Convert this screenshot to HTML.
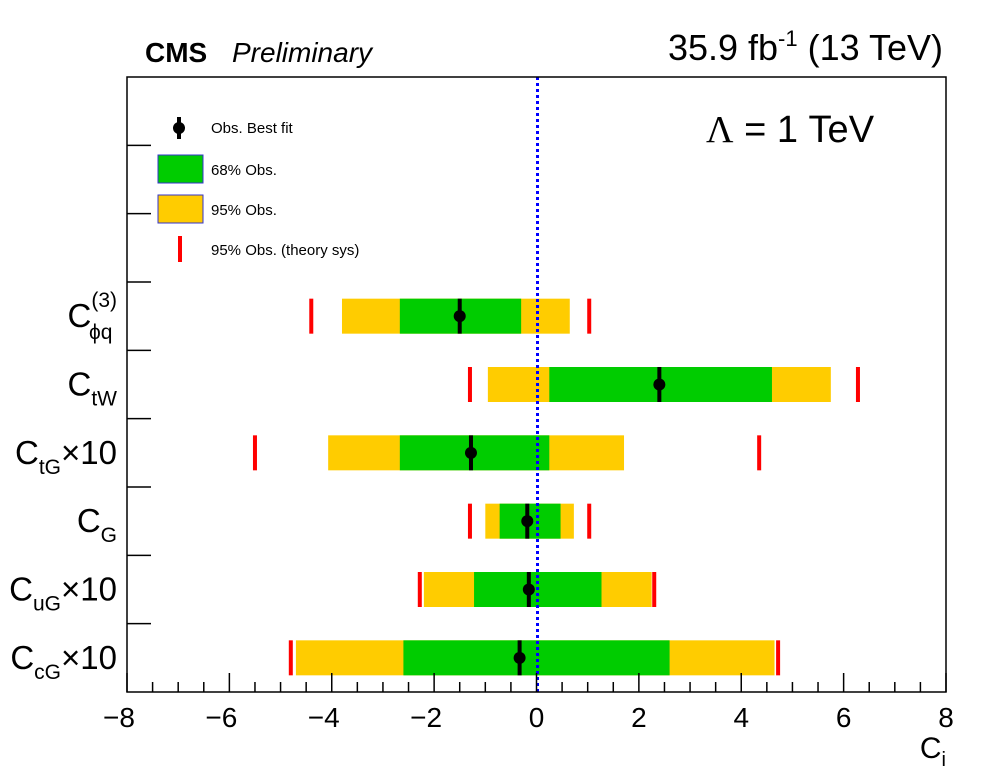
<!DOCTYPE html>
<html><head><meta charset="utf-8"><style>
body{margin:0;background:#fff;}
svg text{font-family:"Liberation Sans",sans-serif;}
</style></head><body>
<svg id="c" width="996" height="772" xmlns="http://www.w3.org/2000/svg">
<rect x="0" y="0" width="996" height="772" fill="#fff"/>
<text x="145" y="62" font-size="28" font-weight="bold">CMS</text>
<text x="232" y="62" font-size="28" font-style="italic">Preliminary</text>
<text x="943" y="60" font-size="36" text-anchor="end">35.9 fb<tspan dy="-14" font-size="22">-1</tspan><tspan dy="14"> (13 TeV)</tspan></text>
<text x="706" y="142" font-size="38"><tspan font-family="Liberation Serif">Λ</tspan> = 1 TeV</text>
<g id="marks"></g>
<g id="axes"></g>
<line x1="179" y1="117" x2="179" y2="139" stroke="#000" stroke-width="4"/>
<circle cx="179" cy="128" r="6" fill="#000"/>
<text x="211" y="133" font-size="15">Obs. Best fit</text>
<rect x="158" y="155" width="45" height="28" fill="#00cc00" stroke="#3333cc"/>
<text x="211" y="175" font-size="15">68% Obs.</text>
<rect x="158" y="195" width="45" height="28" fill="#ffcc00" stroke="#3333cc"/>
<text x="211" y="215" font-size="15">95% Obs.</text>
<rect x="178" y="236" width="4" height="26" fill="#ff0000"/>
<text x="211" y="255" font-size="15">95% Obs. (theory sys)</text>
<text x="946" y="758" font-size="30" text-anchor="end">C<tspan dy="8" font-size="20">i</tspan></text>
</svg>
<script>
const params=["cphiq","ctw","ctg","cg","cug","ccg"];
const best=[-1.5,2.4,-1.28,-0.18,-0.15,-0.33];
const lo68=[-2.67,0.25,-2.67,-0.72,-1.22,-2.6];
const hi68=[-0.3,4.6,0.25,0.47,1.27,2.6];
const lo95=[-3.8,-0.95,-4.07,-1.0,-2.2,-4.7];
const hi95=[0.65,5.75,1.71,0.73,2.25,4.65];
const loTh=[-4.4,-1.3,-5.5,-1.3,-2.28,-4.8];
const hiTh=[1.03,6.28,4.35,1.03,2.3,4.72];
const xTicks=[-8,-6,-4,-2,0,2,4,6,8];
const ns="http://www.w3.org/2000/svg";
const L=127,R=946,T=77,B=692,NROW=9;
const rowH=(B-T)/NROW;
const X=v=>L+(v+8)/16*(R-L);
const Yc=i=>T+rowH*(i+3+0.5);
function mk(tag,at,parent){const e=document.createElementNS(ns,tag);for(const k in at)e.setAttribute(k,at[k]);parent.appendChild(e);return e;}
const g=document.getElementById('marks'),ax=document.getElementById('axes');
const bh=35;
params.forEach((p,i)=>{
 const y=Yc(i);
 let e=mk('rect',{x:X(lo95[i]),y:y-bh/2,width:X(hi95[i])-X(lo95[i]),height:bh,fill:'#ffcc00'},g);
 
 
 e=mk('rect',{x:X(lo68[i]),y:y-bh/2,width:X(hi68[i])-X(lo68[i]),height:bh,fill:'#00cc00'},g);
 
 
 [loTh[i],hiTh[i]].forEach((v,j)=>{
  const r=mk('rect',{x:X(v)-2,y:y-bh/2,width:4,height:bh,fill:'#ff0000'},g);
  
  
 });
 e=mk('line',{x1:X(best[i]),x2:X(best[i]),y1:y-bh/2,y2:y+bh/2,stroke:'#000','stroke-width':4},g);
 
 
 e=mk('circle',{cx:X(best[i]),cy:y,r:6,fill:'#000'},g);
 
 
});
let zl=mk('line',{x1:X(0)+1,x2:X(0)+1,y1:T,y2:B,stroke:'#0000ff','stroke-width':3,'stroke-dasharray':'3,3'},ax);


let fr=mk('rect',{x:L,y:T,width:R-L,height:B-T,fill:'none',stroke:'#000','stroke-width':1.5},ax);


for(let v=-8;v<=8.001;v+=0.5){
 const maj=Math.abs(v/2-Math.round(v/2))<1e-6;
 const t=mk('line',{x1:X(v),x2:X(v),y1:B,y2:B-(maj?19:10),stroke:'#000','stroke-width':1.5},ax);
 
 
}
xTicks.forEach(v=>{
 const t=mk('text',{x:X(v)-(v<0?8:0),y:727,'font-size':28,'text-anchor':'middle'},ax);
 t.textContent=(v<0?'\u2212':'')+Math.abs(v);
 
 
});
for(let k=1;k<NROW;k++){
 const y=T+rowH*k;
 const t=mk('line',{x1:L,x2:L+24,y1:y,y2:y,stroke:'#000','stroke-width':1.5},ax);
 
 
}
const labs=[['C','ϕq','(3)',''],['C','tW','',''],['C','tG','','×10'],['C','G','',''],['C','uG','','×10'],['C','cG','','×10']];
labs.forEach((l,i)=>{
 const y=Yc(i)+11;
 const t=mk('text',{x:117,y:y,'font-size':33,'text-anchor':'end'},ax);
 let h='C';
 if(l[2]){h+='<tspan dy="-20" font-size="21">'+l[2]+'</tspan><tspan dx="-28" dy="32" font-size="21">'+l[1]+'</tspan>';}
 else h+='<tspan dy="10" font-size="21">'+l[1]+'</tspan><tspan dy="-10">'+l[3]+'</tspan>';
 t.innerHTML=h;
 
 
});
</script>
</body></html>
